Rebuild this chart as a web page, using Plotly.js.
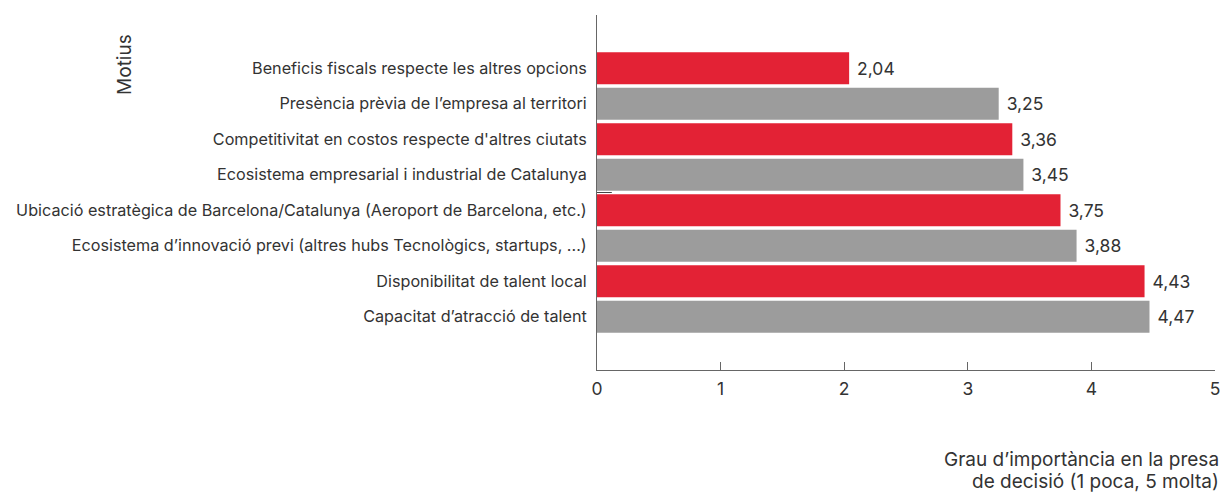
<!DOCTYPE html>
<html>
<head>
<meta charset="utf-8">
<script src="https://cdn.plot.ly/plotly-3.0.1.min.js"></script>
<style>
  html, body { margin: 0; padding: 0; background: #fff; }
  #chart { width: 1226px; height: 495px; }
</style>
</head>
<body>
<div id="chart"></div>
<script>
// motius, de dalt a baix
var motius = [
  "Beneficis fiscals respecte les altres opcions",
  "Presència prèvia de l’empresa al territori",
  "Competitivitat en costos respecte d'altres ciutats",
  "Ecosistema empresarial i industrial de Catalunya",
  "Ubicació estratègica de Barcelona/Catalunya (Aeroport de Barcelona, etc.)",
  "Ecosistema d’innovació previ (altres hubs Tecnològics, startups, ...)",
  "Disponibilitat de talent local",
  "Capacitat d’atracció de talent"
];
var grau = [2.04, 3.25, 3.36, 3.45, 3.75, 3.88, 4.43, 4.47];
var xTicks = [0, 1, 2, 3, 4, 5];
var xTitle = ["Grau d’importància en la presa", "de decisió (1 poca, 5 molta)"];

var red = "#e32235";
var grey = "#9c9c9c";
var colors = motius.map(function(m, i) { return i % 2 == 0 ? red : grey });

var font = "Inter, Roboto, 'Liberation Sans', sans-serif";

var data = [{
  type: "bar",
  orientation: "h",
  y: motius,
  x: grau,
  marker: { color: colors, line: { width: 0 } },
  texttemplate: " %{x:.2f}",
  textposition: "outside",
  textfont: { size: 17.5, color: "#333", family: font },
  cliponaxis: false,
  hoverinfo: "none"
}];

var annots = [{
  text: "Motius",
  xref: "paper", yref: "paper",
  x: -0.765, y: 0.86,
  xanchor: "center", yanchor: "middle",
  textangle: -90,
  showarrow: false,
  font: { size: 19, color: "#333" }
}];
// titol de l'eix x, dues linies alineades a la dreta
xTitle.forEach(function(t, i) {
  annots.push({
    text: t,
    xref: "paper", yref: "paper",
    x: 1.01, y: -0.252 - i * 0.062,
    xanchor: "right", yanchor: "middle",
    showarrow: false,
    font: { size: 19, color: "#333" }
  });
});

var layout = {
  width: 1226,
  height: 495,
  margin: { l: 597, r: 11, t: 15, b: 125 },
  paper_bgcolor: "#fff",
  plot_bgcolor: "#fff",
  separators: ",.",
  bargap: 0.1,
  showlegend: false,
  font: { family: font, color: "#333" },
  xaxis: {
    range: [0, 5],
    tickvals: xTicks,
    ticks: "inside",
    ticklen: 8,
    tickcolor: "#666",
    showline: true,
    linecolor: "#666",
    linewidth: 1,
    showgrid: false,
    zeroline: false,
    ticklabelstandoff: 3,
    tickfont: { size: 17.5, color: "#333" }
  },
  yaxis: {
    type: "category",
    range: [8.5, -1.5],
    showline: true,
    linecolor: "#666",
    linewidth: 1,
    showgrid: false,
    zeroline: false,
    ticks: "",
    ticklabelstandoff: 6,
    tickfont: { size: 16.2, color: "#333" }
  },
  shapes: [{
    type: "line", xref: "x", yref: "y",
    x0: 0, x1: 0.12, y0: 3.5, y1: 3.5,
    line: { color: "#444", width: 1 }
  }],
  annotations: annots
};

Plotly.newPlot("chart", data, layout, { displayModeBar: false, staticPlot: true });
</script>
</body>
</html>
